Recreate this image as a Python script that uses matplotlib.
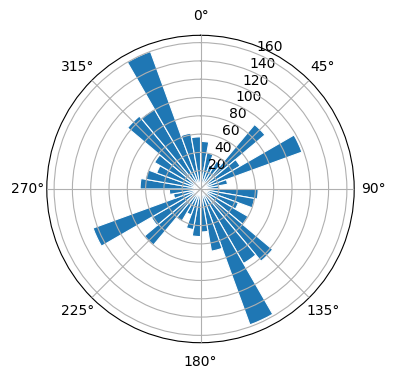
import numpy as np
import matplotlib
matplotlib.use('Agg')
import matplotlib.pyplot as plt

# direction bin centres (deg, clockwise from north) and counts
directions = np.arange(5, 360, 10)
counts = [52, 40, 28, 35, 92, 50, 118, 30, 20,
          63, 60, 44, 60, 103, 94, 158, 69, 47,
          52, 45, 30, 41, 80, 62, 125, 30, 34,
          66, 61, 51, 58, 104, 101, 160, 62, 57]

fig = plt.figure(figsize=(3.96, 3.8), dpi=100)
ax = fig.add_axes([46.8/396, 37.3/380, 307.4/396, 307.4/380], projection='polar')
ax.set_theta_zero_location('N')
ax.set_theta_direction(-1)

ax.bar(np.deg2rad(directions), counts, width=np.deg2rad(10),
       color='#1f77b4', edgecolor='white', linewidth=0.8)
ax.grid(True, color='#b0b0b0')
ax.set_axisbelow(False)

fig.savefig('out.png', dpi=100)
